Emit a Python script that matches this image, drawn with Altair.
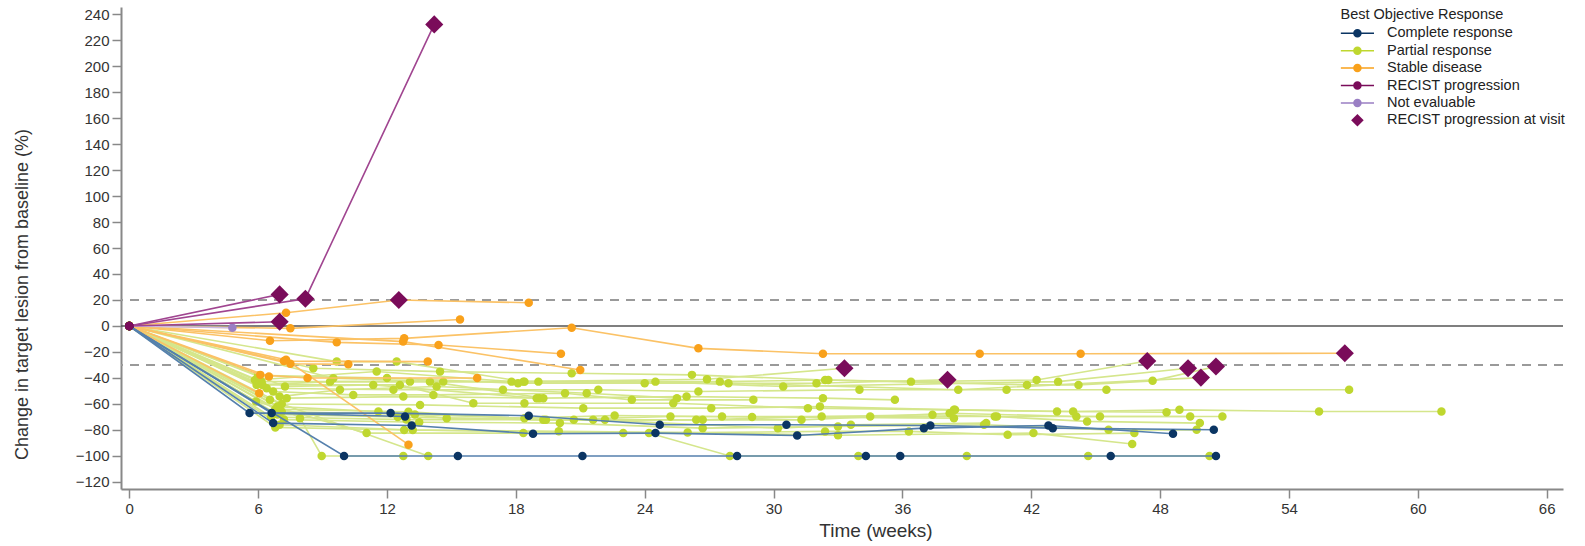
import altair as alt
import pandas as pd

# ---------------- data ----------------
categories = ["Complete response", "Partial response", "Stable disease",
              "RECIST progression", "Not evaluable", "RECIST progression at visit"]
point_colors = ["#0B3563", "#BFD72F", "#F9A11B", "#7A0C5A", "#9A7FC4", "#7A0C5A"]
line_colors = ["#5580AD", "#D5E68C", "#FBC266", "#A04590", "#C9B8E3", "#7A0C5A"]

cr_weeks = [
    [0, 10.0, 15.3, 21.1, 28.3, 34.3, 35.9, 45.7, 50.6],
    [0, 5.6, 12.17, 18.6, 24.7, 30.6, 37.3, 43.0, 50.5],
    [0, 6.7, 13.15, 18.8, 24.5, 31.1, 37.0, 42.8, 48.6],
    [0, 6.63, 12.84],
]
cr_values = [
    [0, -100, -100, -100, -100, -100, -100, -100, -100],
    [0, -67, -67, -69, -76, -76, -76.5, -78.6, -79.8],
    [0, -74.7, -76.5, -82.9, -82.4, -84.2, -78.6, -76.5, -82.9],
    [0, -67, -69.6],
]

pr_weeks = [
    [0, 7.95, 8.96, 12.76],
    [0, 6.55, 13.92],
    [0, 5.9, 11.05, 18.35, 24.2, 27.97, 33.95, 39.0, 44.65, 50.3],
    [0, 7.1, 13.54, 21.14, 27.1, 32.16, 38.45, 43.95, 48.9, 55.4, 61.1],
    [0, 6.4, 12.3, 17.4, 21.84, 26.5, 34.0, 40.85, 45.5, 56.8],
    [0, 8.57, 14.47, 20.6, 26.2, 32.4, 36.4, 42.25, 47.4],
    [0, 5.85, 11.52, 17.8, 24.5, 30.45, 43.25, 49.3],
    [0, 6.16, 13.07, 19.05, 27.5, 32.55, 41.8, 44.2, 47.65, 50.6],
    [0, 9.5, 14.62, 18.4, 27.9, 38.6, 49.9],
    [0, 9.66, 12.45, 18.35, 26.9, 33.3],
    [0, 7.33, 12.76, 19.1, 25.95, 32.3, 35.65],
    [0, 6.7, 10.43, 14.16, 20.29, 23.4, 29.06],
    [0, 7.0, 9.81, 14.31, 21.3, 25.5],
    [0, 5.93, 9.35, 14.0, 19.28],
    [0, 7.25, 11.36, 18.97],
    [0, 6.2, 12.6, 16.02, 18.4, 25.33, 31.6, 38.4, 43.2, 48.3],
    [0, 6.9, 11.6, 14.78, 20.7, 26.4, 31.3, 38.2, 44.1, 49.4],
    [0, 6.8, 13.0, 19.28, 22.15, 26.7, 32.24, 37.4, 40.4, 45.2, 50.9],
    [0, 6.9, 12.5, 19.4, 25.2, 27.6, 34.5, 40.3, 44.6, 49.85],
    [0, 7.2, 13.5, 20.05, 26.7, 33.0, 39.8, 45.6, 49.7],
    [0, 6.6, 12.9, 21.6, 30.2, 33.6, 39.9],
    [0, 7.0, 13.2, 23.0, 32.4, 36.3, 40.9, 46.8],
    [0, 6.8, 12.8, 20.0, 26.0, 33.0, 42.1, 46.7],
    [0, 7.1, 13.3, 18.4, 22.6, 29.0, 38.4],
    [0, 6.0, 12.0, 18.1, 24.0, 32.0, 38.1],
]
pr_values = [
    [0, -70.9, -100, -100],
    [0, -56.8, -100],
    [0, -58, -82.4, -82.4, -82.4, -100, -100, -100, -100, -100],
    [0, -60, -60.7, -63.2, -63.2, -62, -64.5, -65.8, -64.5, -65.8, -65.8],
    [0, -47.9, -49.1, -49.1, -49.1, -50.4, -49.1, -49.1, -49.1, -49.1],
    [0, -32.5, -35.1, -36.4, -37.6, -41.5, -42.8, -41.5, -26.9],
    [0, -41.5, -35, -42.8, -42.8, -46.6, -42.8, -32.5],
    [0, -42.8, -42.8, -42.8, -42.8, -41.5, -45.3, -45.3, -42.2, -31.2],
    [0, -40.2, -42.8, -42.8, -44, -49.1, -39.7],
    [0, -27.4, -27.4, -42.8, -41, -32.5],
    [0, -55.5, -54.3, -55.5, -54.3, -55.5, -56.8],
    [0, -50.4, -53, -53, -51.7, -56.8, -56.8],
    [0, -54.3, -49.1, -46.6, -51.7, -55.5],
    [0, -45.3, -42.8, -42.8, -55.5],
    [0, -46.6, -45.3, -55.5],
    [0, -45.3, -45.3, -59.4, -59.4, -59.4, -63.2, -64.5, -65.8, -66.3],
    [0, -62, -65.8, -70.9, -72.2, -72.2, -72.2, -67.1, -69.6, -69.6],
    [0, -64, -66, -72.2, -72.2, -72.2, -69.6, -68.3, -69.6, -69.6, -69.6],
    [0, -68, -70, -72.2, -69.6, -69.6, -69.6, -69.6, -73.4, -74.7],
    [0, -72, -74, -74.7, -78.6, -77.3, -76, -79.9, -79.9],
    [0, -70, -72, -72.2, -78.6, -76, -74.7],
    [0, -76, -80, -82.4, -81.1, -81.1, -83.7, -82.4],
    [0, -78, -80, -81, -82, -84, -82.4, -90.8],
    [0, -66, -68, -70.9, -68.8, -70, -70.9],
    [0, -38, -40, -44, -44, -44, -41.4],
]

sd_weeks = [
    [0, 7.3, 12.55, 18.6],
    [0, 7.5, 15.4],
    [0, 6.55, 12.8, 20.6, 26.5, 32.3, 39.6, 44.3, 56.6],
    [0, 9.66, 14.4, 20.1],
    [0, 12.75, 21.0],
    [0, 7.2, 13.9],
    [0, 7.5, 10.2],
    [0, 6.1, 8.3, 16.2],
    [0, 6.5],
    [0, 6.05],
    [0, 7.3, 13.0],
]
sd_values = [
    [0, 10.2, 20, 17.9],
    [0, -1.8, 5],
    [0, -11.3, -9.5, -1.3, -17.2, -21.3, -21.3, -21.3, -21],
    [0, -12.6, -14.6, -21.3],
    [0, -12, -33.8],
    [0, -27, -27.4],
    [0, -29, -29.5],
    [0, -37.6, -40, -40],
    [0, -38.9],
    [0, -51.7],
    [0, -26, -91.3],
]

pd_weeks = [[0, 8.2, 14.2], [0, 7.0], [0, 7.0]]
pd_values = [[0, 21, 232], [0, 24.3], [0, 3.3]]

ne_weeks = [[0, 4.8]]
ne_values = [[0, -1.3]]

diamond_weeks = [7.0, 8.2, 14.2, 7.0, 12.55, 33.3, 38.1, 47.4, 49.3, 49.9, 50.6, 56.6]
diamond_values = [24.3, 21, 232, 3.3, 20, -32.5, -41.4, -26.9, -32.5, -39.7, -31.2, -21]

ref_dashed = [20, -30]
ref_solid = [0]
x_ticks = list(range(0, 67, 6))
y_ticks = list(range(-120, 241, 20))

# ---------------- build chart ----------------
groups = [
    ("Partial response", pr_weeks, pr_values),
    ("Stable disease", sd_weeks, sd_values),
    ("Not evaluable", ne_weeks, ne_values),
    ("Complete response", cr_weeks, cr_values),
    ("RECIST progression", pd_weeks, pd_values),
]

FONT = "Liberation Sans"
X = alt.X("week:Q", scale=alt.Scale(domain=[-0.386, 66.76], nice=False, zero=False),
          axis=alt.Axis(values=x_ticks, title="Time (weeks)", grid=False, tickSize=9,
                        labelPadding=3, titleX=754.5, titleY=41, titleBaseline="middle",
                        titleAlign="center"))
Y = alt.Y("value:Q", scale=alt.Scale(domain=[-125.4, 245.4], nice=False, zero=False),
          axis=alt.Axis(values=y_ticks, title="Change in target lesion from baseline (%)",
                        grid=False, tickSize=9, labelPadding=3, titleX=-99, titleY=287,
                        titleBaseline="middle", titleAlign="center", titleAngle=270,
                        titleFontSize=18))

layers = []
layers.append(alt.Chart(pd.DataFrame({"value": ref_dashed}))
              .mark_rule(color="#9a9a9a", strokeWidth=2, strokeDash=[9, 7]).encode(y=Y))
layers.append(alt.Chart(pd.DataFrame({"value": ref_solid}))
              .mark_rule(color="#555555", strokeWidth=1.5).encode(y=Y))

for cat, W, V in groups:
    idx = categories.index(cat)
    rows = []
    for i, (ws, vs) in enumerate(zip(W, V)):
        for j, (w, v) in enumerate(zip(ws, vs)):
            rows.append({"pid": f"{cat}-{i}", "week": w, "value": v, "ord": j})
    df = pd.DataFrame(rows)
    layers.append(alt.Chart(df).mark_line(color=line_colors[idx], strokeWidth=1.6)
                  .encode(x=X, y=Y, detail="pid:N", order="ord:Q"))
    layers.append(alt.Chart(df).mark_circle(color=point_colors[idx], size=72, opacity=1)
                  .encode(x=X, y=Y))

dia_df = pd.DataFrame({"week": diamond_weeks, "value": diamond_values,
                       "cat": ["RECIST progression at visit"] * len(diamond_weeks)})

# progression-at-visit diamonds on the plot
diamond_plot = "M0,-0.74L0.74,0L0,0.74L-0.74,0Z"
layers.append(alt.Chart(dia_df).mark_point(filled=True, opacity=1, size=600, strokeWidth=0,
                                           shape=diamond_plot, color=point_colors[5])
              .encode(x=X, y=Y))

# legend (symbols: line + dot for series, diamond for visit markers)
sh = 0.05
line_dot = (f"M{-1.95+sh},-0.09H{1.95+sh}V0.09H{-1.95+sh}Z "
            f"M{sh+0.5},0A0.5,0.5,0,1,1,{sh-0.5},0A0.5,0.5,0,1,1,{sh+0.5},0Z")
diamond_leg = f"M{sh},-0.74L{sh+0.74},0L{sh},0.74L{sh-0.74},0Z"
shape_range = [line_dot] * 5 + [diamond_leg]

legend = alt.Legend(title="Best Objective Response", orient="none", legendX=1219.5, legendY=0.9,
                    symbolSize=289, symbolOffset=8, labelOffset=21.5, rowPadding=2.4,
                    titlePadding=2.4, padding=0,
                    titleFontSize=14.5, labelFontSize=14.5, titleFont=FONT, labelFont=FONT,
                    titleFontWeight="normal", titleColor="#222", labelColor="#222",
                    symbolStrokeWidth=0, symbolOpacity=1, labelLimit=400, titleLimit=400)

layers.append(alt.Chart(dia_df).transform_filter("datum.week < -1000")
              .mark_point(filled=True, opacity=1, size=600, strokeWidth=0)
              .encode(x=X, y=Y,
                      color=alt.Color("cat:N", scale=alt.Scale(domain=categories, range=point_colors), legend=legend),
                      shape=alt.Shape("cat:N", scale=alt.Scale(domain=categories, range=shape_range), legend=legend)))

chart = alt.layer(*layers).properties(
    width=1442, height=482,
    autosize=alt.AutoSizeParams(type="none"),
    padding={"left": 121, "top": 7, "right": 22, "bottom": 57},
    background="white",
).configure_view(stroke=None).configure_axis(
    domainColor="#888888", domainWidth=2, tickColor="#888888", tickWidth=1.5,
    labelFont=FONT, labelFontSize=15, labelColor="#333333",
    titleFont=FONT, titleFontSize=19, titleFontWeight="normal", titleColor="#333333",
)

chart.save("out.html", embed_options={"renderer": "svg", "actions": False})
